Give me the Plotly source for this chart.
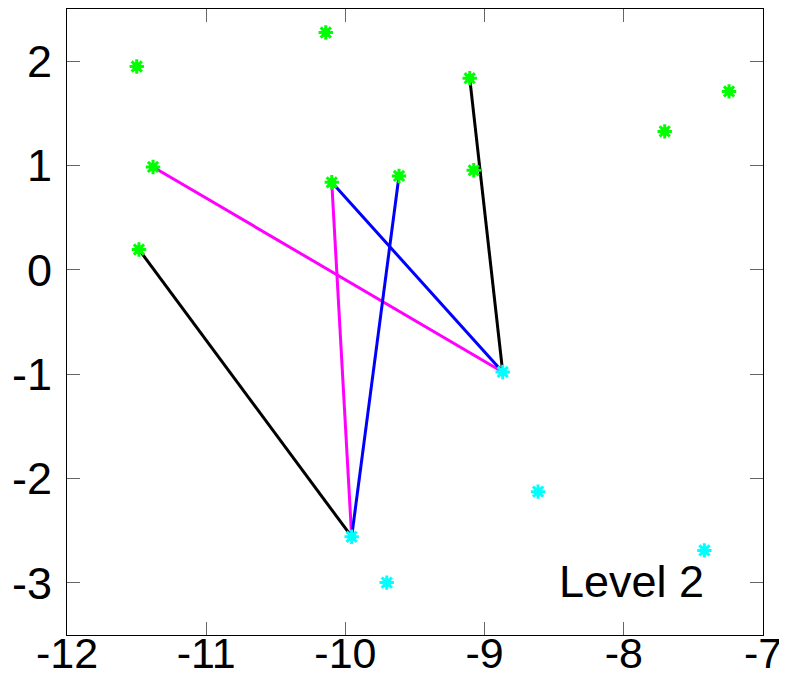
import plotly.graph_objects as go

# Green points
green_x = [-11.499, -10.141, -11.382, -11.483, -10.098, -9.615, -9.107, -9.078, -7.706, -7.244]
green_y = [1.949, 2.275, 0.986, 0.195, 0.839, 0.900, 1.837, 0.954, 1.327, 1.710]

# Cyan points
cyan_x = [-8.870, -9.955, -9.703, -8.616, -7.421]
cyan_y = [-0.979, -2.558, -2.998, -2.126, -2.689]

# Connecting segments
seg_x0 = [-11.483, -11.382, -10.098, -9.107, -10.098, -9.615]
seg_y0 = [0.195, 0.986, 0.839, 1.837, 0.839, 0.900]
seg_x1 = [-9.955, -8.870, -8.870, -8.870, -9.955, -9.955]
seg_y1 = [-2.558, -0.979, -0.979, -0.979, -2.558, -2.558]
seg_colors = ["black", "#ff00ff", "#0000ff", "black", "#ff00ff", "#0000ff"]

x_ticks = [-12, -11, -10, -9, -8, -7]
y_ticks = [-3, -2, -1, 0, 1, 2]
label_text = "Level 2"

fig = go.Figure()

for x0, y0, x1, y1, c in zip(seg_x0, seg_y0, seg_x1, seg_y1, seg_colors):
    fig.add_trace(go.Scatter(x=[x0, x1], y=[y0, y1], mode="lines",
                             line=dict(color=c, width=3), showlegend=False,
                             hoverinfo="skip"))

for xs, ys, col in [(green_x, green_y, "#00ff00"), (cyan_x, cyan_y, "#00ffff")]:
    fig.add_trace(go.Scatter(x=xs, y=ys, mode="markers",
                             marker=dict(symbol="square", size=8, color=col,
                                         line=dict(width=0)),
                             showlegend=False))
    fig.add_trace(go.Scatter(x=xs, y=ys, mode="markers",
                             marker=dict(symbol="asterisk", size=12, color=col,
                                         line=dict(color=col, width=3)),
                             showlegend=False))

fig.add_annotation(x=-8.482, y=-2.99, xref="x", yref="y", text=label_text,
                   showarrow=False, xanchor="left", yanchor="middle",
                   font=dict(family="Liberation Sans, Arial, sans-serif", size=45, color="black"))

axis_common = dict(showgrid=False, zeroline=False, showline=True, linecolor="black",
                   linewidth=1, mirror="ticks", ticks="inside", ticklen=13,
                   tickcolor="#666666", tickwidth=1, automargin=False)

fig.update_xaxes(range=[-12, -7], tickvals=x_ticks, ticktext=[str(v) for v in x_ticks],
                 ticklabelstandoff=-20,
                 tickfont=dict(family="Liberation Sans, Arial, sans-serif", size=43, color="black"),
                 **axis_common)
fig.update_yaxes(range=[-3.5, 2.5], tickvals=y_ticks, ticktext=[str(v) for v in y_ticks],
                 ticklabelstandoff=5,
                 tickfont=dict(family="Liberation Sans, Arial, sans-serif", size=45, color="black"),
                 **axis_common)

fig.update_layout(width=779, height=671, plot_bgcolor="white", paper_bgcolor="white",
                  margin=dict(l=59, r=24, t=1, b=44), showlegend=False)

fig.write_html("out.html")
